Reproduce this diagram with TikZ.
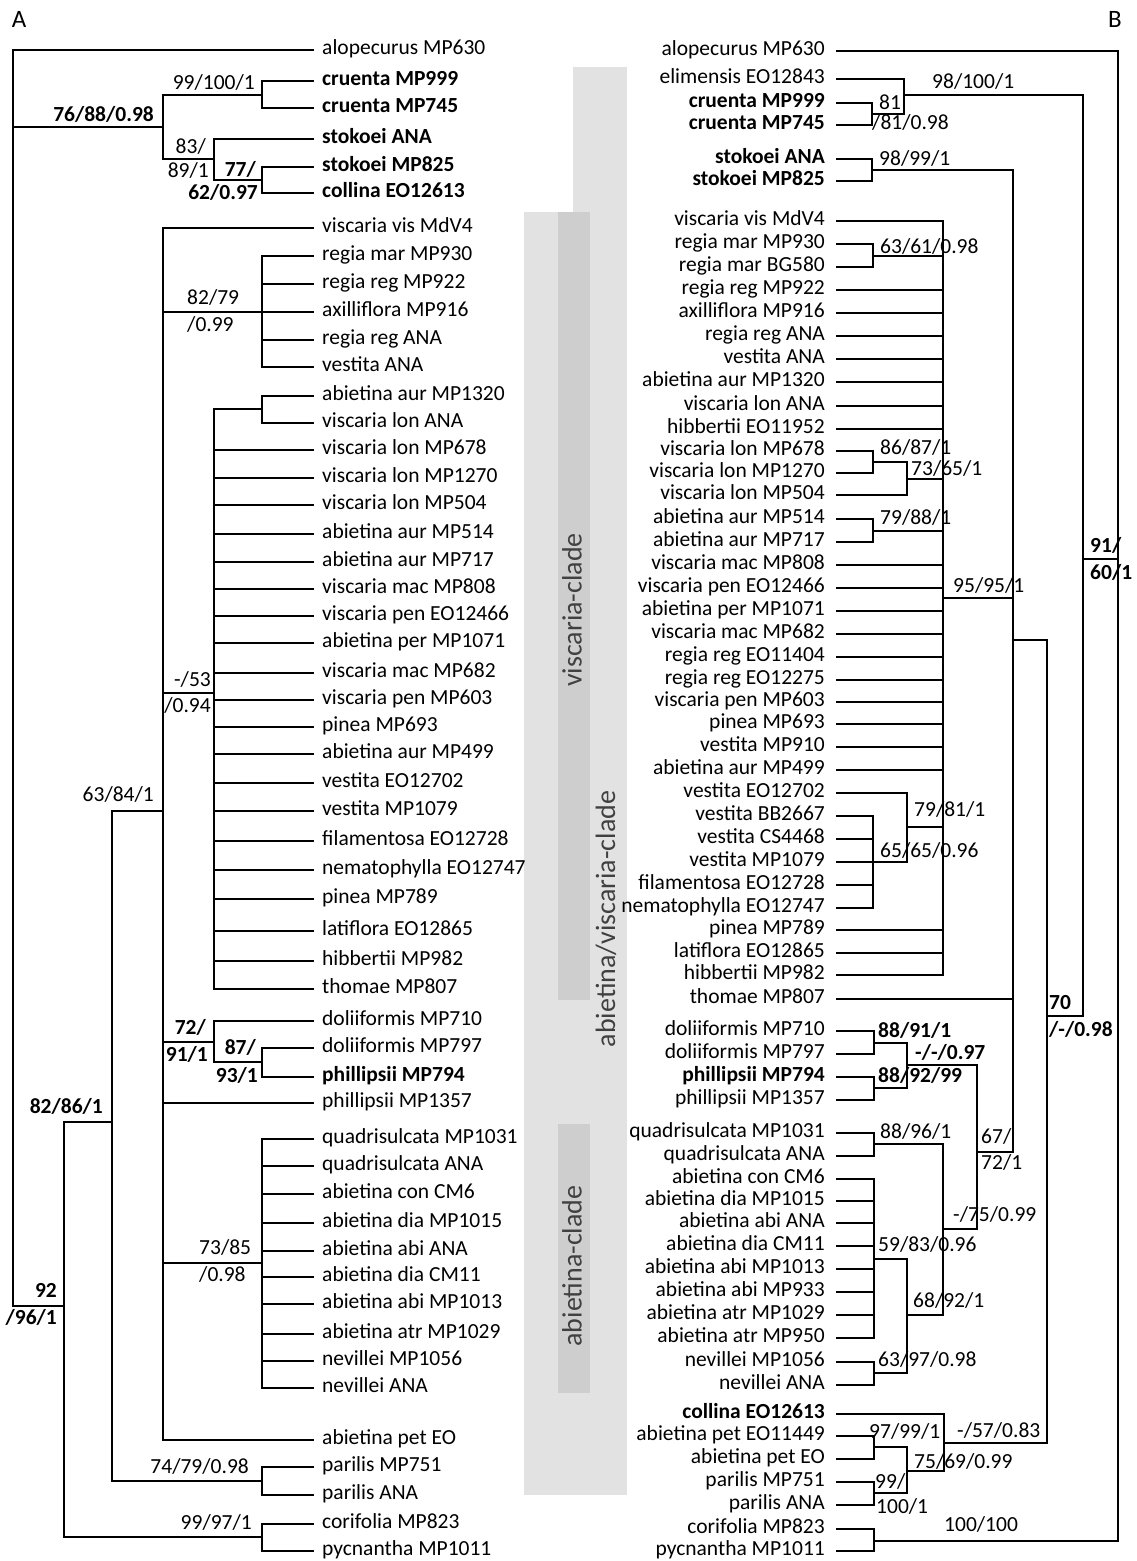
\documentclass[tikz,border=0pt]{standalone}
\usepackage{fontspec}
\setmainfont{Carlito}
\definecolor{bandlt}{RGB}{226,226,226}
\definecolor{banddk}{RGB}{206,206,206}
\definecolor{cladetxt}{RGB}{64,64,64}
\begin{document}
\begin{tikzpicture}[x=1pt, y=-1pt, font=\fontsize{21.5}{24}\selectfont]
    \tikzset{
      br/.style={line width=2.7pt, line join=miter},
      lfA/.style={anchor=west, inner xsep=8pt, inner ysep=0pt, text height=9pt, text depth=0pt},
      lfB/.style={anchor=east, inner xsep=11pt, inner ysep=0pt, text height=9pt, text depth=0pt},
      bsL/.style={anchor=west, inner sep=0pt, text height=9pt, text depth=0pt},
      bsR/.style={anchor=east, inner sep=0pt, text height=9pt, text depth=0pt},
      bf/.style={execute at begin node=\bfseries},
      clade/.style={rotate=90, text=cladetxt, font=\fontsize{28}{30}\selectfont},
      panel/.style={font=\fontsize{25}{28}\selectfont},
    }
    \useasboundingbox (0,0) rectangle (1137,1561);

    % clade bands
    \fill[bandlt] (524,212) rectangle (573,1495);
    \fill[bandlt] (573,67) rectangle (627,1495);
    \fill[banddk] (558,212) rectangle (590,1000);
    \fill[banddk] (558,1124) rectangle (590,1393);
    \node[clade] (cvis) at (572,610) {viscaria-clade};
    \node[clade] (cabvis) at (606,919) {abietina/viscaria-clade};
    \node[clade] (cabi) at (572,1266) {abietina-clade};

    \node[panel] (pA) at (19,19) {A};
    \node[panel] (pB) at (1115,19) {B};

    % tree A, leaves
    \node[lfA] (L1) at (314,50) {alopecurus MP630};
    \node[lfA,bf] (L2) at (314,81) {cruenta MP999};
    \node[lfA,bf] (L3) at (314,108) {cruenta MP745};
    \node[lfA,bf] (L4) at (314,139) {stokoei ANA};
    \node[lfA,bf] (L5) at (314,167) {stokoei MP825};
    \node[lfA,bf] (L6) at (314,193) {collina EO12613};
    \node[lfA] (L7) at (314,228) {viscaria vis MdV4};
    \node[lfA] (L8) at (314,256) {regia mar MP930};
    \node[lfA] (L9) at (314,284) {regia reg MP922};
    \node[lfA] (L10) at (314,312) {axilliflora MP916};
    \node[lfA] (L11) at (314,340) {regia reg ANA};
    \node[lfA] (L12) at (314,367) {vestita ANA};
    \node[lfA] (L13) at (314,396) {abietina aur MP1320};
    \node[lfA] (L14) at (314,423) {viscaria lon ANA};
    \node[lfA] (L15) at (314,450) {viscaria lon MP678};
    \node[lfA] (L16) at (314,478) {viscaria lon MP1270};
    \node[lfA] (L17) at (314,505) {viscaria lon MP504};
    \node[lfA] (L18) at (314,534) {abietina aur MP514};
    \node[lfA] (L19) at (314,562) {abietina aur MP717};
    \node[lfA] (L20) at (314,589) {viscaria mac MP808};
    \node[lfA] (L21) at (314,616) {viscaria pen EO12466};
    \node[lfA] (L22) at (314,643) {abietina per MP1071};
    \node[lfA] (L23) at (314,673) {viscaria mac MP682};
    \node[lfA] (L24) at (314,700) {viscaria pen MP603};
    \node[lfA] (L25) at (314,727) {pinea MP693};
    \node[lfA] (L26) at (314,754) {abietina aur MP499};
    \node[lfA] (L27) at (314,783) {vestita EO12702};
    \node[lfA] (L28) at (314,811) {vestita MP1079};
    \node[lfA] (L29) at (314,841) {filamentosa EO12728};
    \node[lfA] (L30) at (314,870) {nematophylla EO12747};
    \node[lfA] (L31) at (314,899) {pinea MP789};
    \node[lfA] (L32) at (314,931) {latiflora EO12865};
    \node[lfA] (L33) at (314,961) {hibbertii MP982};
    \node[lfA] (L34) at (314,989) {thomae MP807};
    \node[lfA] (L35) at (314,1021) {doliiformis MP710};
    \node[lfA] (L36) at (314,1048) {doliiformis MP797};
    \node[lfA,bf] (L37) at (314,1077) {phillipsii MP794};
    \node[lfA] (L38) at (314,1103) {phillipsii MP1357};
    \node[lfA] (L39) at (314,1139) {quadrisulcata MP1031};
    \node[lfA] (L40) at (314,1166) {quadrisulcata ANA};
    \node[lfA] (L41) at (314,1194) {abietina con CM6};
    \node[lfA] (L42) at (314,1223) {abietina dia MP1015};
    \node[lfA] (L43) at (314,1251) {abietina abi ANA};
    \node[lfA] (L44) at (314,1277) {abietina dia CM11};
    \node[lfA] (L45) at (314,1304) {abietina abi MP1013};
    \node[lfA] (L46) at (314,1334) {abietina atr MP1029};
    \node[lfA] (L47) at (314,1361) {nevillei MP1056};
    \node[lfA] (L48) at (314,1388) {nevillei ANA};
    \node[lfA] (L49) at (314,1440) {abietina pet EO};
    \node[lfA] (L50) at (314,1467) {parilis MP751};
    \node[lfA] (L51) at (314,1495) {parilis ANA};
    \node[lfA] (L52) at (314,1524) {corifolia MP823};
    \node[lfA] (L53) at (314,1551) {pycnantha MP1011};

    % tree A, inner nodes
    \coordinate (aRoot) at (13,127);
    \coordinate (aTop) at (163,127);
    \coordinate (aCru) at (262,95);
    \coordinate (aSto) at (214,159);
    \coordinate (aSC) at (262,180);
    \coordinate (aB) at (64,1306);
    \coordinate (aC) at (112,1122);
    \coordinate (aCor) at (262,1537);
    \coordinate (aD) at (163,811);
    \coordinate (aPar) at (262,1481);
    \coordinate (aReg) at (262,312);
    \coordinate (aVis) at (214,693);
    \coordinate (aAur) at (262,409);
    \coordinate (aDol) at (214,1042);
    \coordinate (aPhi) at (262,1062);
    \coordinate (aAbi) at (262,1263);

    \foreach \p/\c in {aRoot/L1.west, aRoot/aTop, aRoot/aB,
        aTop/aCru, aTop/aSto, aCru/L2.west, aCru/L3.west,
        aSto/L4.west, aSto/aSC, aSC/L5.west, aSC/L6.west,
        aB/aC, aB/aCor, aCor/L52.west, aCor/L53.west,
        aC/aD, aC/aPar, aPar/L50.west, aPar/L51.west,
        aD/L7.west, aD/aReg, aD/aVis, aD/aDol, aD/L38.west, aD/aAbi, aD/L49.west,
        aAur/L13.west, aAur/L14.west, aVis/aAur,
        aDol/L35.west, aDol/aPhi, aPhi/L36.west, aPhi/L37.west}
      \draw[br] (\p) |- (\c);
    \foreach \i in {8,...,12} \draw[br] (aReg) |- (L\i.west);
    \foreach \i in {15,...,34} \draw[br] (aVis) |- (L\i.west);
    \foreach \i in {39,...,48} \draw[br] (aAbi) |- (L\i.west);

    % tree A, support values
    \node[bsR] (sa1) at (255,85) {99/100/1};
    \node[bsR,bf] (sa2) at (154,117) {76/88/0.98};
    \node[bsR] (sa3) at (206,149) {83/};
    \node[bsR] (sa4) at (209,173) {89/1};
    \node[bsR,bf] (sa5) at (256,172) {77/};
    \node[bsR,bf] (sa6) at (258,195) {62/0.97};
    \node[bsL] (sa7) at (187,300) {82/79};
    \node[bsL] (sa8) at (187,327) {/0.99};
    \node[bsR] (sa9) at (211,682) {-/53};
    \node[bsR] (sa10) at (211,708) {/0.94};
    \node[bsR] (sa11) at (154,797) {63/84/1};
    \node[bsR,bf] (sa12) at (206,1030) {72/};
    \node[bsR,bf] (sa13) at (208,1057) {91/1};
    \node[bsR,bf] (sa14) at (256,1050) {87/};
    \node[bsR,bf] (sa15) at (258,1078) {93/1};
    \node[bsR,bf] (sa16) at (103,1109) {82/86/1};
    \node[bsL] (sa17) at (199,1250) {73/85};
    \node[bsL] (sa18) at (199,1277) {/0.98};
    \node[bsR,bf] (sa19) at (57,1293) {92};
    \node[bsR,bf] (sa20) at (57,1320) {/96/1};
    \node[bsR] (sa21) at (249,1469) {74/79/0.98};
    \node[bsR] (sa22) at (252,1525) {99/97/1};

    % tree B, leaves
    \node[lfB] (R1) at (836,51) {alopecurus MP630};
    \node[lfB] (R2) at (836,79) {elimensis EO12843};
    \node[lfB,bf] (R3) at (836,103) {cruenta MP999};
    \node[lfB,bf] (R4) at (836,125) {cruenta MP745};
    \node[lfB,bf] (R5) at (836,159) {stokoei ANA};
    \node[lfB,bf] (R6) at (836,181) {stokoei MP825};
    \node[lfB] (R7) at (836,221) {viscaria vis MdV4};
    \node[lfB] (R8) at (836,244) {regia mar MP930};
    \node[lfB] (R9) at (836,267) {regia mar BG580};
    \node[lfB] (R10) at (836,290) {regia reg MP922};
    \node[lfB] (R11) at (836,313) {axilliflora MP916};
    \node[lfB] (R12) at (836,336) {regia reg ANA};
    \node[lfB] (R13) at (836,359) {vestita ANA};
    \node[lfB] (R14) at (836,382) {abietina aur MP1320};
    \node[lfB] (R15) at (836,406) {viscaria lon ANA};
    \node[lfB] (R16) at (836,429) {hibbertii EO11952};
    \node[lfB] (R17) at (836,451) {viscaria lon MP678};
    \node[lfB] (R18) at (836,473) {viscaria lon MP1270};
    \node[lfB] (R19) at (836,495) {viscaria lon MP504};
    \node[lfB] (R20) at (836,519) {abietina aur MP514};
    \node[lfB] (R21) at (836,542) {abietina aur MP717};
    \node[lfB] (R22) at (836,565) {viscaria mac MP808};
    \node[lfB] (R23) at (836,588) {viscaria pen EO12466};
    \node[lfB] (R24) at (836,611) {abietina per MP1071};
    \node[lfB] (R25) at (836,634) {viscaria mac MP682};
    \node[lfB] (R26) at (836,657) {regia reg EO11404};
    \node[lfB] (R27) at (836,680) {regia reg EO12275};
    \node[lfB] (R28) at (836,702) {viscaria pen MP603};
    \node[lfB] (R29) at (836,724) {pinea MP693};
    \node[lfB] (R30) at (836,747) {vestita MP910};
    \node[lfB] (R31) at (836,770) {abietina aur MP499};
    \node[lfB] (R32) at (836,793) {vestita EO12702};
    \node[lfB] (R33) at (836,816) {vestita BB2667};
    \node[lfB] (R34) at (836,839) {vestita CS4468};
    \node[lfB] (R35) at (836,862) {vestita MP1079};
    \node[lfB] (R36) at (836,885) {filamentosa EO12728};
    \node[lfB] (R37) at (836,908) {nematophylla EO12747};
    \node[lfB] (R38) at (836,930) {pinea MP789};
    \node[lfB] (R39) at (836,953) {latiflora EO12865};
    \node[lfB] (R40) at (836,975) {hibbertii MP982};
    \node[lfB] (R41) at (836,999) {thomae MP807};
    \node[lfB] (R42) at (836,1031) {doliiformis MP710};
    \node[lfB] (R43) at (836,1054) {doliiformis MP797};
    \node[lfB,bf] (R44) at (836,1077) {phillipsii MP794};
    \node[lfB] (R45) at (836,1100) {phillipsii MP1357};
    \node[lfB] (R46) at (836,1133) {quadrisulcata MP1031};
    \node[lfB] (R47) at (836,1156) {quadrisulcata ANA};
    \node[lfB] (R48) at (836,1179) {abietina con CM6};
    \node[lfB] (R49) at (836,1201) {abietina dia MP1015};
    \node[lfB] (R50) at (836,1223) {abietina abi ANA};
    \node[lfB] (R51) at (836,1246) {abietina dia CM11};
    \node[lfB] (R52) at (836,1269) {abietina abi MP1013};
    \node[lfB] (R53) at (836,1292) {abietina abi MP933};
    \node[lfB] (R54) at (836,1315) {abietina atr MP1029};
    \node[lfB] (R55) at (836,1338) {abietina atr MP950};
    \node[lfB] (R56) at (836,1362) {nevillei MP1056};
    \node[lfB] (R57) at (836,1385) {nevillei ANA};
    \node[lfB,bf] (R58) at (836,1414) {collina EO12613};
    \node[lfB] (R59) at (836,1436) {abietina pet EO11449};
    \node[lfB] (R60) at (836,1459) {abietina pet EO};
    \node[lfB] (R61) at (836,1482) {parilis MP751};
    \node[lfB] (R62) at (836,1505) {parilis ANA};
    \node[lfB] (R63) at (836,1529) {corifolia MP823};
    \node[lfB] (R64) at (836,1551) {pycnantha MP1011};

    % tree B, inner nodes
    \coordinate (bRoot) at (1118,559);
    \coordinate (bA) at (1083,559);
    \coordinate (bEli) at (904,95);
    \coordinate (bCru) at (872,114);
    \coordinate (bB) at (1047,1016);
    \coordinate (bC) at (1013,640);
    \coordinate (bSto) at (872,170);
    \coordinate (bVis) at (943,598);
    \coordinate (bReg) at (873,256);
    \coordinate (bLonB) at (907,479);
    \coordinate (bLon) at (873,462);
    \coordinate (bAur) at (873,531);
    \coordinate (bVes) at (907,827);
    \coordinate (bVesB) at (873,862);
    \coordinate (bD) at (977,1152);
    \coordinate (bDP) at (907,1065);
    \coordinate (bDol) at (874,1043);
    \coordinate (bPhi) at (874,1088);
    \coordinate (bE) at (943,1229);
    \coordinate (bQua) at (874,1144);
    \coordinate (bF) at (907,1315);
    \coordinate (bAbi) at (874,1259);
    \coordinate (bNev) at (874,1373);
    \coordinate (bG) at (944,1443);
    \coordinate (bH) at (907,1471);
    \coordinate (bPet) at (874,1447);
    \coordinate (bPar) at (874,1493);
    \coordinate (bCor) at (874,1541);

    \foreach \p/\c in {bRoot/R1.east, bRoot/bA, bRoot/bCor,
        bCor/R63.east, bCor/R64.east,
        bA/bEli, bA/bB, bEli/R2.east, bEli/bCru, bCru/R3.east, bCru/R4.east,
        bB/bC, bB/bG, bC/bSto, bC/bVis, bC/R41.east, bC/bD,
        bSto/R5.east, bSto/R6.east,
        bVis/R7.east, bVis/bReg, bReg/R8.east, bReg/R9.east,
        bVis/bLonB, bLonB/bLon, bLonB/R19.east, bLon/R17.east, bLon/R18.east,
        bVis/bAur, bAur/R20.east, bAur/R21.east,
        bVis/bVes, bVes/R32.east, bVes/bVesB,
        bD/bDP, bD/bE, bDP/bDol, bDP/bPhi,
        bDol/R42.east, bDol/R43.east, bPhi/R44.east, bPhi/R45.east,
        bE/bQua, bE/bF, bQua/R46.east, bQua/R47.east,
        bF/bAbi, bF/bNev, bNev/R56.east, bNev/R57.east,
        bG/R58.east, bG/bH, bH/bPet, bH/bPar,
        bPet/R59.east, bPet/R60.east, bPar/R61.east, bPar/R62.east}
      \draw[br] (\p) |- (\c);
    \foreach \i in {10,...,16,22,23,...,31,38,39,40} \draw[br] (bVis) |- (R\i.east);
    \foreach \i in {33,...,37} \draw[br] (bVesB) |- (R\i.east);
    \foreach \i in {48,...,55} \draw[br] (bAbi) |- (R\i.east);

    % tree B, support values
    \node[bsL] (sb1) at (932,84) {98/100/1};
    \node[bsL] (sb2) at (879,105) {81};
    \node[bsL] (sb3) at (872,125) {/81/0.98};
    \node[bsL] (sb4) at (879,161) {98/99/1};
    \node[bsL] (sb5) at (880,249) {63/61/0.98};
    \node[bsL] (sb6) at (880,450) {86/87/1};
    \node[bsL] (sb7) at (911,471) {73/65/1};
    \node[bsL] (sb8) at (880,520) {79/88/1};
    \node[bsL] (sb9) at (953,588) {95/95/1};
    \node[bsL] (sb10) at (914,812) {79/81/1};
    \node[bsL] (sb11) at (880,853) {65/65/0.96};
    \node[bsL,bf] (sb12) at (878,1033) {88/91/1};
    \node[bsL,bf] (sb13) at (915,1055) {-/-/0.97};
    \node[bsL,bf] (sb14) at (878,1078) {88/92/99};
    \node[bsL] (sb15) at (981,1139) {67/};
    \node[bsL] (sb16) at (981,1165) {72/1};
    \node[bsL] (sb17) at (953,1217) {-/75/0.99};
    \node[bsL] (sb18) at (880,1134) {88/96/1};
    \node[bsL] (sb19) at (878,1247) {59/83/0.96};
    \node[bsL] (sb20) at (913,1303) {68/92/1};
    \node[bsL] (sb21) at (878,1362) {63/97/0.98};
    \node[bsL] (sb22) at (869,1434) {97/99/1};
    \node[bsL] (sb23) at (914,1464) {75/69/0.99};
    \node[bsL] (sb24) at (875,1484) {99/};
    \node[bsL] (sb25) at (876,1509) {100/1};
    \node[bsL] (sb26) at (957,1433) {-/57/0.83};
    \node[bsL] (sb27) at (944,1527) {100/100};
    \node[bsL,bf] (sb28) at (1090,548) {91/};
    \node[bsL,bf] (sb29) at (1090,575) {60/1};
    \node[bsL,bf] (sb30) at (1049,1005) {70};
    \node[bsL,bf] (sb31) at (1049,1032) {/-/0.98};
\end{tikzpicture}
\end{document}
